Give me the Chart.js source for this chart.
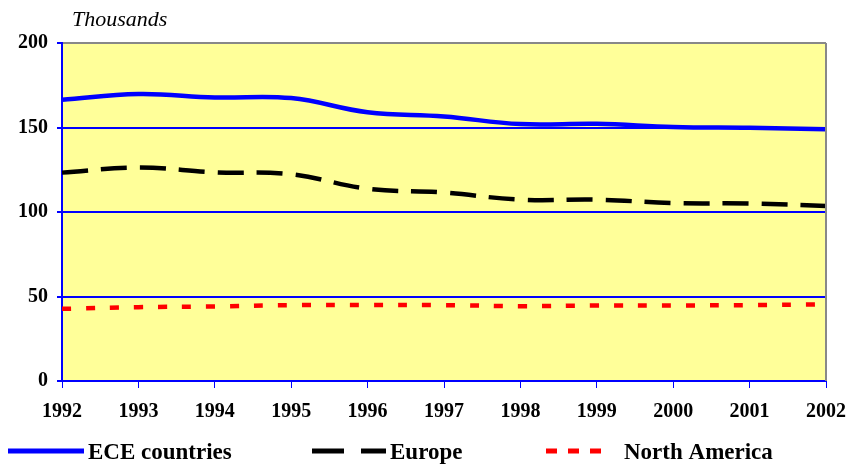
<!DOCTYPE html>
<html>
<head>
<meta charset="utf-8">
<script src="https://cdn.jsdelivr.net/npm/chart.js@4/dist/chart.umd.min.js"></script>
<style>
  html, body { margin: 0; padding: 0; background: #fff; }
  #wrap { width: 848px; height: 466px; }
</style>
</head>
<body>
<div id="wrap"><canvas id="chart"></canvas></div>
<script>
const years = ['1992', '1993', '1994', '1995', '1996', '1997', '1998', '1999', '2000', '2001', '2002'];
const ece = [166.4, 169.8, 167.8, 167.4, 159, 156.5, 152, 152.2, 150.3, 149.8, 149];
const europe = [123.3, 126.3, 123.5, 122.3, 113.8, 111.5, 107.3, 107.3, 105.3, 105, 103.6];
const northAmerica = [42.7, 43.7, 44.1, 44.9, 44.9, 44.9, 44.3, 44.7, 44.7, 44.9, 45.4];
const seriesNames = ['ECE countries', 'Europe', 'North America'];
const unitLabel = 'Thousands';

const serif = '"Liberation Serif", "Times New Roman", serif';

// yellow plot background, grey right edge, unit label above the axis
const plotFrame = {
  id: 'plotFrame',
  beforeDraw(chart) {
    const {ctx, chartArea: a} = chart;
    ctx.save();
    ctx.fillStyle = '#FFFF99';
    ctx.fillRect(a.left, a.top, a.right - a.left, a.bottom - a.top);
    ctx.restore();
  },
  afterDatasetsDraw(chart) {
    const {ctx, chartArea: a} = chart;
    ctx.save();
    ctx.strokeStyle = '#888888';
    ctx.lineWidth = 2;
    ctx.beginPath();
    ctx.moveTo(a.right, a.top);
    ctx.lineTo(a.right, a.bottom);
    ctx.stroke();
    ctx.fillStyle = '#000';
    ctx.font = 'italic 22px ' + serif;
    ctx.textBaseline = 'alphabetic';
    ctx.fillText(unitLabel, a.left + 10, 26);
    ctx.restore();
  }
};

// legend row at the bottom, spaced like the original
const bottomLegend = {
  id: 'bottomLegend',
  afterDraw(chart) {
    const ctx = chart.ctx;
    const slots = [{x: 8, w: 76, gap: 4}, {x: 312, w: 74, gap: 4}, {x: 546, w: 56, gap: 22}];
    const y = 451;
    ctx.save();
    ctx.font = 'bold 23px ' + serif;
    ctx.textBaseline = 'middle';
    chart.data.datasets.forEach((ds, i) => {
      const s = slots[i];
      ctx.strokeStyle = ds.borderColor;
      ctx.lineWidth = 5;
      ctx.lineCap = 'butt';
      ctx.setLineDash(ds.legendDash || []);
      ctx.beginPath();
      ctx.moveTo(s.x, y);
      ctx.lineTo(s.x + s.w, y);
      ctx.stroke();
      ctx.setLineDash([]);
      ctx.fillStyle = '#000';
      ctx.fillText(ds.label, s.x + s.w + s.gap, y + 2);
    });
    ctx.restore();
  }
};

const ctx = document.getElementById('chart');

new Chart(ctx, {
  type: 'line',
  data: {
    labels: years,
    datasets: [{
      label: seriesNames[0],
      data: ece,
      borderColor: '#0000FF',
      borderWidth: 4.5,
      tension: 0.4,
      pointRadius: 0
    }, {
      label: seriesNames[1],
      data: europe,
      borderColor: '#000000',
      borderWidth: 4.5,
      borderDash: [26, 13],
      legendDash: [32, 17],
      tension: 0.4,
      pointRadius: 0
    }, {
      label: seriesNames[2],
      data: northAmerica,
      borderColor: '#FF0000',
      borderWidth: 4.5,
      borderDash: [9, 15],
      legendDash: [11, 11],
      tension: 0.4,
      pointRadius: 0
    }]
  },
  options: {
    responsive: true,
    maintainAspectRatio: false,
    animation: false,
    layout: {
      padding: {left: 9, right: 0, top: 43, bottom: 30}
    },
    plugins: {
      legend: { display: false },
      tooltip: { enabled: false }
    },
    scales: {
      x: {
        // last year label may run to the canvas edge
        afterFit: scale => { scale.paddingRight = 22; },
        grid: {
          drawOnChartArea: false,
          color: '#0000FF',
          tickLength: 7
        },
        border: { color: '#0000FF', width: 2 },
        ticks: {
          color: '#000',
          font: { family: serif, size: 20, weight: 'bold' },
          padding: 12,
          maxRotation: 0
        }
      },
      y: {
        min: 0,
        max: 200,
        grid: {
          color: c => c.tick.value === 200 ? '#888888' : '#0000FF',
          tickColor: '#0000FF',
          lineWidth: 2,
          tickLength: 5
        },
        border: { color: '#0000FF', width: 2 },
        ticks: {
          stepSize: 50,
          color: '#000',
          font: { family: serif, size: 20, weight: 'bold' },
          padding: 9
        }
      }
    }
  },
  plugins: [plotFrame, bottomLegend]
});
</script>
</body>
</html>
